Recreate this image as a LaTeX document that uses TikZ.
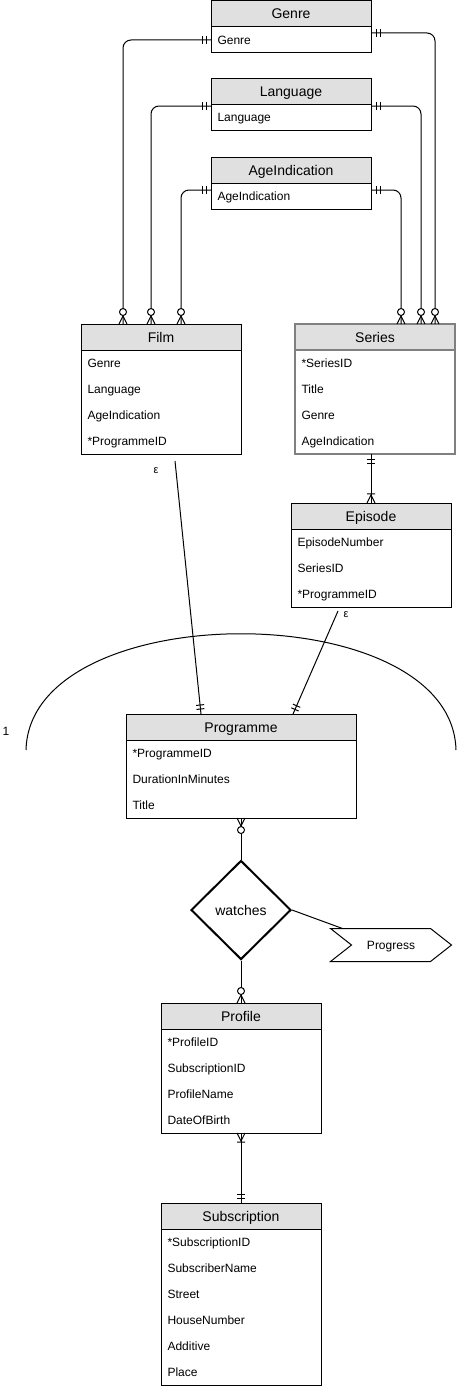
\documentclass[tikz,border=0pt]{standalone}
\usepackage{fontspec}
\setmainfont{Liberation Sans}
\usetikzlibrary{positioning, calc, shapes.geometric, decorations.markings}
\definecolor{headgray}{RGB}{224,224,224}

\tikzset{
  erhead/.style={draw, fill=headgray, minimum height=26pt, inner sep=0pt, outer sep=0pt,
    text height=10pt, text depth=0pt, font=\fontsize{14}{16}\selectfont},
  erbody/.style={draw, fill=white, inner sep=0pt, outer sep=0pt},
  errow/.style={anchor=west, inner sep=0pt, text height=8.6pt, text depth=0pt,
    font=\fontsize{12}{14}\selectfont},
  erlabel/.style={inner sep=0pt, font=\fontsize{11}{13}\selectfont},
  relation/.style={diamond, draw, line width=2pt, aspect=1, minimum width=100pt,
    minimum height=99pt, inner sep=0pt, text height=10pt, text depth=0pt,
    font=\fontsize{14}{16}\selectfont},
  attrflag/.style={minimum width=120pt, minimum height=32pt, inner sep=0pt,
    text height=8.6pt, text depth=0pt, font=\fontsize{12}{14}\selectfont},
  % cardinality markers
  barsstart/.style={postaction={decorate, decoration={markings,
    mark=at position 5pt with {\draw (0,-4pt) -- (0,4pt);},
    mark=at position 9pt with {\draw (0,-4pt) -- (0,4pt);}}}},
  barsend/.style={postaction={decorate, decoration={markings,
    mark=at position -9pt with {\draw (0,-4pt) -- (0,4pt);},
    mark=at position -5pt with {\draw (0,-4pt) -- (0,4pt);}}}},
  zeromanystart/.style={postaction={decorate, decoration={markings,
    mark=at position 0.1pt with {\draw (8pt,0) -- (0,4pt) (8pt,0) -- (0,-4pt);},
    mark=at position 12pt with {\draw[fill=white] (0,0) circle (3.5pt);}}}},
  zeromanyend/.style={postaction={decorate, decoration={markings,
    mark=at position -12pt with {\draw[fill=white] (0,0) circle (3.5pt);},
    mark=at position -0.1pt with {\draw (-8pt,0) -- (0,4pt) (-8pt,0) -- (0,-4pt);}}}},
  onemanystart/.style={postaction={decorate, decoration={markings,
    mark=at position 0.1pt with {\draw (8pt,0) -- (0,4pt) (8pt,0) -- (0,-4pt) (9pt,-4pt) -- (9pt,4pt);}}}},
  onemanyend/.style={postaction={decorate, decoration={markings,
    mark=at position -0.1pt with {\draw (-8pt,0) -- (0,4pt) (-8pt,0) -- (0,-4pt) (-9pt,-4pt) -- (-9pt,4pt);}}}},
}

% [style] name, north west corner, width, title, number of rows, rows
\newcommand{\erentity}[7][]{%
  \node[erhead, minimum width=#4, anchor=north west, #1] (#2) at (#3) {#5};
  \node[erbody, minimum width=#4, minimum height=#6*26pt, below=0pt of #2, #1] (#2-b) {};
  \foreach \r [count=\i] in {#7}
    \node[errow] (#2-\i) at ($(#2-b.north west)+(6,26*\i-13)$) {\r};%
}

\begin{document}
\begin{tikzpicture}[x=1pt, y=-1pt, line width=1pt]
  \useasboundingbox (0,0) rectangle (457,1389);

  % Lookup tables
  \erentity{genre}{211,1}{160}{Genre}{1}{Genre}
  \erentity{language}{211,78}{160}{Language}{1}{Language}
  \erentity{age}{211,157}{160}{AgeIndication}{1}{AgeIndication}

  % Entities
  \erentity{film}{81,324}{160}{Film}{4}{Genre,Language,AgeIndication,*ProgrammeID}
  \erentity[draw=black!50, line width=1.5pt]{series}{295,324}{160}{Series}{4}{*SeriesID,Title,Genre,AgeIndication}
  \erentity{episode}{291,503}{160}{Episode}{3}{EpisodeNumber,SeriesID,*ProgrammeID}
  \erentity{programme}{126,714}{230}{Programme}{3}{*ProgrammeID,DurationInMinutes,Title}
  \erentity{profile}{161,1003}{160}{Profile}{4}{*ProfileID,SubscriptionID,ProfileName,DateOfBirth}
  \erentity{subscription}{161,1203}{160}{Subscription}{6}{*SubscriptionID,SubscriberName,Street,HouseNumber,Additive,Place}

  \node[relation] (watches) at (241,910) {watches};
  \node[attrflag] (progress) at (391,945) {Progress};
  \draw ($(progress.north west)$) -- ($(progress.north east)+(-21,0)$) -- (progress.east)
    -- ($(progress.south east)+(-21,0)$) -- (progress.south west)
    -- ($(progress.west)+(21,0)$) -- cycle;

  % Lookups to Film and Series
  \draw[rounded corners=8pt, barsstart, zeromanyend] (genre-b.west) -| ($(film.north west)+(42,0)$);
  \draw[rounded corners=8pt, barsstart, zeromanyend] ($(language-b.north west)+(0,2)$) -| ($(film.north west)+(70,0)$);
  \draw[rounded corners=8pt, barsstart, zeromanyend] ($(age-b.north west)+(0,7)$) -| ($(film.north west)+(100,0)$);
  \draw[rounded corners=8pt, barsstart, zeromanyend] ($(genre-b.north east)+(0,6)$) -| ($(series.north west)+(140,0)$);
  \draw[rounded corners=8pt, barsstart, zeromanyend] ($(language-b.north east)+(0,2)$) -| ($(series.north west)+(126,0)$);
  \draw[rounded corners=8pt, barsstart, zeromanyend] ($(age-b.north east)+(0,7)$) -| ($(series.north west)+(106,0)$);

  % Series to Episode
  \draw[barsstart, onemanyend] (episode.north |- series-b.south) -- (episode.north);

  % Specialisation into Programme
  \coordinate (filmout) at (175,461);
  \coordinate (episodeout) at (338,611);
  \draw[barsend] (filmout) -- ($(programme.north)+(-40,0)$);
  \draw[barsend] (episodeout) -- ($(programme.north)+(52,0)$);
  \node[erlabel] (eps1) at (156,471) {ε};
  \node[erlabel] (eps2) at (346,615) {ε};
  \coordinate (arcleft) at (26,750);
  \coordinate (arcright) at (456,750);
  \draw (arcleft) .. controls (30,595) and (452,595) .. (arcright);
  \node[erlabel, font=\fontsize{12}{14}\selectfont] (one) at (6,731) {1};

  % watches
  \draw[zeromanystart] (programme-b.south) -- (watches.north);
  \draw[zeromanyend] (watches.south) -- (profile.north);
  \draw (watches.east) -- ($(progress.north west)+(12,0)$);

  % Profile to Subscription
  \draw[onemanystart, barsend] (profile-b.south) -- (subscription.north);
\end{tikzpicture}
\end{document}
